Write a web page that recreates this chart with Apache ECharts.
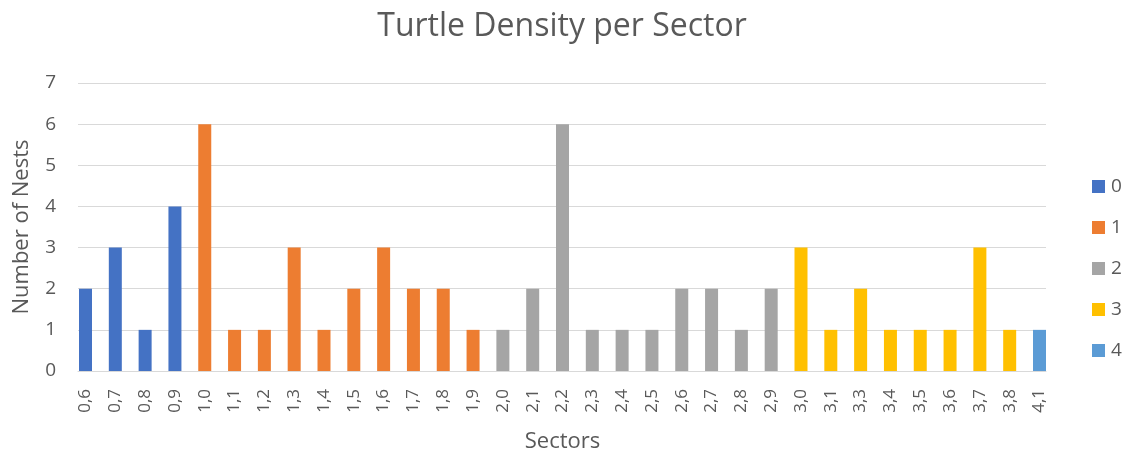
<!DOCTYPE html>
<html>
<head>
<meta charset="utf-8">
<script src="https://cdn.jsdelivr.net/npm/echarts@6/dist/echarts.min.js"></script>
<style>
  html, body { margin: 0; padding: 0; background: #fff; }
  #chart { width: 1124px; height: 453px; }
</style>
</head>
<body>
<div id="chart"></div>
<script>
// Sector labels along the x axis
const sectors = ['0,6','0,7','0,8','0,9','1,0','1,1','1,2','1,3','1,4','1,5','1,6','1,7','1,8','1,9',
  '2,0','2,1','2,2','2,3','2,4','2,5','2,6','2,7','2,8','2,9',
  '3,0','3,1','3,3','3,4','3,5','3,6','3,7','3,8','4,1'];

// Nest counts per sector, grouped by the sector's whole-number part
const group0 = { '0,6': 2, '0,7': 3, '0,8': 1, '0,9': 4 };
const group1 = { '1,0': 6, '1,1': 1, '1,2': 1, '1,3': 3, '1,4': 1, '1,5': 2, '1,6': 3, '1,7': 2, '1,8': 2, '1,9': 1 };
const group2 = { '2,0': 1, '2,1': 2, '2,2': 6, '2,3': 1, '2,4': 1, '2,5': 1, '2,6': 2, '2,7': 2, '2,8': 1, '2,9': 2 };
const group3 = { '3,0': 3, '3,1': 1, '3,3': 2, '3,4': 1, '3,5': 1, '3,6': 1, '3,7': 3, '3,8': 1 };
const group4 = { '4,1': 1 };

const groupNames = ['0', '1', '2', '3', '4'];
const groupColors = ['#4472C4', '#ED7D31', '#A5A5A5', '#FFC000', '#5B9BD5'];
const groups = [group0, group1, group2, group3, group4];

const yTicks = { min: 0, max: 7, interval: 1 };
const FONT = 'Open Sans';
const TEXT = '#595959';
const GRIDLINE = '#D9D9D9';

// Bars live on grid 1 (inset by half a bar), gridlines and y labels on grid 0
const series = groups.map((g, i) => ({
  name: groupNames[i],
  type: 'bar',
  stack: 'nests',
  xAxisIndex: 1,
  yAxisIndex: 1,
  barWidth: 13,
  itemStyle: { color: groupColors[i] },
  data: sectors.map(s => (s in g ? g[s] : null))
}));

const chart = echarts.init(document.getElementById('chart'), null, { renderer: 'canvas' });
chart.setOption({
  animation: false,
  backgroundColor: '#ffffff',
  textStyle: { fontFamily: FONT, color: TEXT },
  title: {
    text: 'Turtle Density per Sector',
    left: 'center',
    top: 6,
    textStyle: { fontFamily: FONT, fontSize: 32, fontWeight: 'normal', color: TEXT }
  },
  legend: {
    orient: 'vertical',
    left: 1087,
    top: 172,
    itemWidth: 13,
    itemHeight: 13,
    itemGap: 22,
    icon: 'rect',
    textStyle: { fontFamily: FONT, fontSize: 19, lineHeight: 19, color: TEXT, padding: [0, 0, 0, 1] }
  },
  grid: [
    { left: 78, right: 78, top: 83, bottom: 82, containLabel: false, outerBoundsMode: 'none' },
    { left: 85.5, right: 84.5, top: 83, bottom: 82, containLabel: false, outerBoundsMode: 'none' }
  ],
  xAxis: [
    {
      type: 'category',
      gridIndex: 0,
      data: sectors,
      axisLine: { lineStyle: { color: GRIDLINE, width: 1 } },
      axisTick: { show: false },
      axisLabel: { show: false },
      splitLine: { show: false }
    },
    {
      type: 'category',
      gridIndex: 1,
      data: sectors,
      boundaryGap: false,
      name: 'Sectors',
      nameLocation: 'middle',
      nameGap: 60,
      nameTextStyle: { fontFamily: FONT, fontSize: 22, color: TEXT },
      axisLine: { show: false },
      axisTick: { show: false },
      splitLine: { show: false },
      axisLabel: { rotate: 90, fontFamily: FONT, fontSize: 17, color: TEXT, margin: 18 }
    }
  ],
  yAxis: [
    {
      type: 'value',
      gridIndex: 0,
      min: yTicks.min,
      max: yTicks.max,
      interval: yTicks.interval,
      name: 'Number of Nests',
      nameLocation: 'middle',
      nameGap: 45,
      nameTextStyle: { fontFamily: FONT, fontSize: 22, color: TEXT },
      axisLine: { show: false },
      axisTick: { show: false },
      axisLabel: { fontFamily: FONT, fontSize: 19, color: TEXT, margin: 22 },
      splitLine: { lineStyle: { color: GRIDLINE, width: 1 } }
    },
    {
      type: 'value',
      gridIndex: 1,
      min: yTicks.min,
      max: yTicks.max,
      interval: yTicks.interval,
      axisLine: { show: false },
      axisTick: { show: false },
      axisLabel: { show: false },
      splitLine: { show: false }
    }
  ],
  series: series
});
</script>
</body>
</html>
